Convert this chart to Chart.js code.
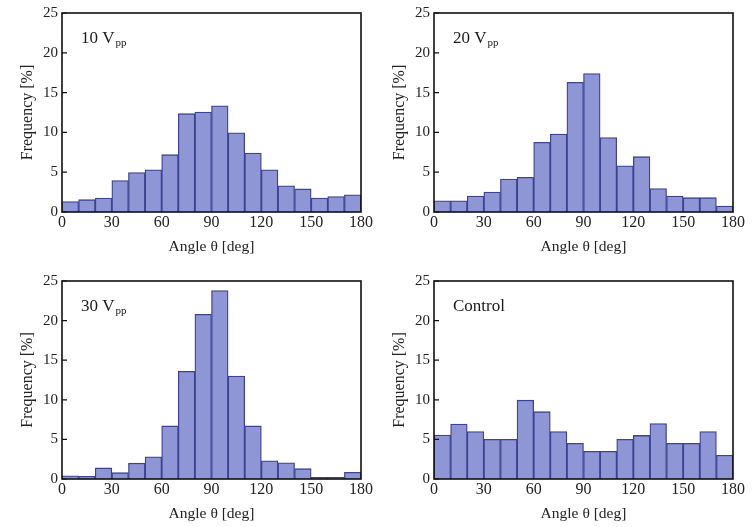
<!DOCTYPE html>
<html><head><meta charset="utf-8">
<script src="https://cdn.jsdelivr.net/npm/chart.js@4.4.1/dist/chart.umd.min.js"></script>
<style>
html,body{margin:0;padding:0;background:#fff;width:753px;height:527px;overflow:hidden;}
canvas{position:absolute;}
</style></head>
<body>
<canvas id="c0"></canvas><canvas id="c1"></canvas><canvas id="c2"></canvas><canvas id="c3"></canvas>
<script>
// ---- data ----
const binStarts = [0,10,20,30,40,50,60,70,80,90,100,110,120,130,140,150,160,170];
const binWidth = 10;
const freq10 = [1.3,1.55,1.75,3.95,4.95,5.3,7.2,12.35,12.55,13.35,9.95,7.4,5.3,3.3,2.9,1.75,1.95,2.15];
const freq20 = [1.4,1.4,2.0,2.5,4.15,4.35,8.75,9.8,16.3,17.4,9.35,5.8,6.95,2.95,2.0,1.8,1.8,0.75];
const freq30 = [0.4,0.35,1.4,0.8,2.0,2.8,6.7,13.6,20.8,23.8,13.0,6.7,2.3,2.05,1.3,0.2,0.2,0.85];
const freqControl = [5.55,6.95,6.0,5.0,5.0,9.95,8.5,6.0,4.5,3.5,3.5,5.0,5.5,7.0,4.5,4.5,6.0,3.0];
const xTickValues = [0,30,60,90,120,150,180];
const yTickValues = [0,5,10,15,20,25];
const panelLabels = [['10 V','pp'],['20 V','pp'],['30 V','pp'],['Control','']];
const xTitle = 'Angle \u03b8 [deg]';
const yTitle = 'Frequency [%]';

// ---- layout ----
const panels = [
  {id:'c0', data:freq10, left:0, top:0, w:376, h:260},
  {id:'c1', data:freq20, left:372, top:0, w:376, h:260},
  {id:'c2', data:freq30, left:0, top:268, w:376, h:259},
  {id:'c3', data:freqControl, left:372, top:268, w:376, h:259}
];
const FONT = "'Liberation Serif', 'Times New Roman', serif";

const framePlugin = {
  id:'frame',
  afterDatasetsDraw(chart, args, opts){
    const {ctx, chartArea:a} = chart;
    const ys = chart.scales.y;
    ctx.save();
    ctx.strokeStyle = '#111';
    ctx.lineWidth = 1.6;
    ctx.strokeRect(a.left, a.top, a.right - a.left, a.bottom - a.top);
    ctx.lineWidth = 1.2;
    ctx.beginPath();
    yTickValues.forEach(v => {
      const py = ys.getPixelForValue(v);
      ctx.moveTo(a.left, py); ctx.lineTo(a.left + 5, py);
    });
    ctx.stroke();
    // panel label
    const lab = opts.label;
    ctx.fillStyle = '#1a1a1a';
    ctx.textBaseline = 'alphabetic';
    ctx.font = '17px ' + FONT;
    const x0 = a.left + 19, y0 = a.top + 30;
    ctx.fillText(lab[0], x0, y0);
    if (lab[1]) {
      const w = ctx.measureText(lab[0]).width;
      ctx.font = '11px ' + FONT;
      ctx.fillText(lab[1], x0 + w + 1, y0 + 3);
    }
    ctx.restore();
  }
};

panels.forEach((p, i) => {
  const cv = document.getElementById(p.id);
  cv.style.left = p.left + 'px'; cv.style.top = p.top + 'px';
  cv.width = p.w; cv.height = p.h;
  cv.style.width = p.w + 'px'; cv.style.height = p.h + 'px';
  new Chart(cv, {
    type:'bar',
    data:{
      datasets:[{
        data: binStarts.map((s, k) => ({x: s + binWidth/2, y: p.data[k]})),
        backgroundColor:'#8f96d6',
        borderColor:'#3d4390',
        borderWidth:1.3,
        barPercentage:1.0,
        categoryPercentage:1.0
      }]
    },
    options:{
      responsive:false, animation:false, devicePixelRatio:1,
      layout:{padding:{left:0, right:15, top:13, bottom:0}},
      plugins:{legend:{display:false}, tooltip:{enabled:false}, frame:{label:panelLabels[i]}},
      scales:{
        x:{
          type:'linear', min:0, max:180, offset:false,
          grid:{display:false, offset:false, drawTicks:false},
          border:{display:false},
          afterBuildTicks: s => { s.ticks = xTickValues.map(v => ({value:v})); },
          afterFit: s => { s.height = 48; },
          ticks:{color:'#222', font:{family:FONT, size:16}, padding:1, maxRotation:0, autoSkip:false},
          title:{display:true, text:xTitle, color:'#222', font:{family:FONT, size:15.5}, padding:{top:4,bottom:4}}
        },
        y:{
          min:0, max:25,
          grid:{display:false, drawTicks:false},
          border:{display:false},
          afterBuildTicks: s => { s.ticks = yTickValues.map(v => ({value:v})); },
          afterFit: s => { s.width = 62; },
          ticks:{color:'#222', font:{family:FONT, size:15}, padding:4},
          title:{display:true, text:yTitle, color:'#222', font:{family:FONT, size:16}, padding:{top:18,bottom:4}}
        }
      }
    },
    plugins:[framePlugin]
  });
});
</script>
</body></html>
